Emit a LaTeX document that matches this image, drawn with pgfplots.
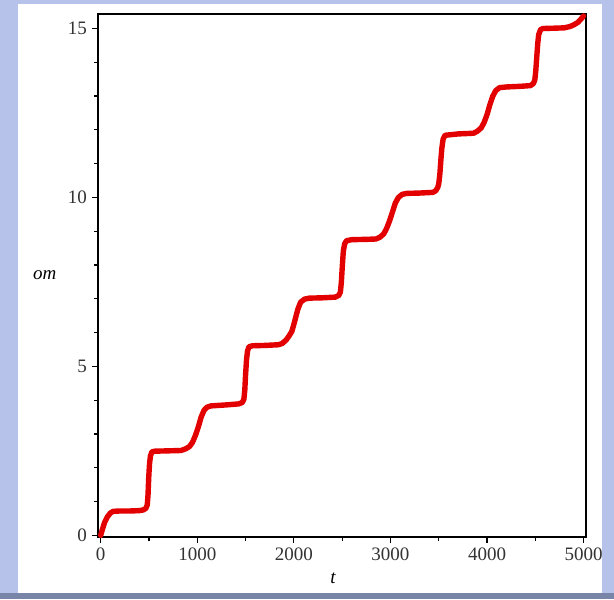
\documentclass[border=0pt]{standalone}
\usepackage{pgfplots}
\pgfplotsset{compat=1.18}
\usepackage{fontspec}
\setmainfont{Liberation Serif}
\definecolor{bgblue}{RGB}{182,194,234}
\definecolor{bgdark}{RGB}{120,132,168}
\definecolor{curve}{RGB}{226,0,0}
\begin{document}
\begin{tikzpicture}
\useasboundingbox (0pt,0pt) rectangle (307pt,299.5pt);
\fill[bgblue] (0pt,0pt) rectangle (307pt,299.5pt);
\fill[bgdark] (0pt,0pt) rectangle (307pt,3pt);
\fill[white] (9pt,3pt) rectangle (301pt,297.5pt);
\begin{axis}[
  at={(49pt,31pt)}, anchor=south west,
  scale only axis, width=244pt, height=261.5pt,
  xmin=-28, xmax=5025, ymin=-0.05, ymax=15.43,
  xtick={0,1000,2000,3000,4000,5000},
  ytick={0,5,10,15},
  minor xtick={500,1500,2500,3500,4500},
  minor ytick={1,2,3,4,6,7,8,9,11,12,13,14},
  xtick pos=left, ytick pos=left,
  tick align=outside,
  major tick length=3pt, minor tick length=2pt,
  every tick/.style={black, line width=0.6pt},
  axis line style={black, line width=0.7pt},
  /pgf/number format/assume math mode=true,
  /pgf/number format/1000 sep={},
  tick label style={font=\fontsize{9.5}{11}\selectfont, text=black!80},
  xticklabel style={yshift=1pt},
  yticklabel style={xshift=1pt},
  xlabel={\textit{t}}, ylabel={\textit{om}},
  every axis x label/.style={at={(axis description cs:0.482,-0.078)}, anchor=center, font=\fontsize{9.5}{11}\selectfont},
  every axis y label/.style={at={(axis description cs:-0.109,0.5)}, anchor=center, font=\fontsize{9.5}{11}\selectfont},
  clip=false,
]
\addplot[curve, line width=2.7pt, line join=round, line cap=round] coordinates {
(0,0.0)(15,0.15)(40,0.38)(70,0.55)(100,0.66)(130,0.71)(200,0.72)(300,0.72)(400,0.73)
(440,0.75)(468,0.80)(482,0.90)(490,1.2)(497,1.7)(505,2.1)(515,2.35)(530,2.47)(560,2.49)
(700,2.50)(830,2.51)(880,2.56)(920,2.63)(950,2.75)(980,2.95)(1010,3.2)(1040,3.5)(1070,3.7)
(1100,3.79)(1140,3.83)(1300,3.86)(1430,3.89)(1465,3.93)(1482,4.02)(1492,4.3)(1500,4.75)
(1510,5.2)(1520,5.45)(1535,5.58)(1570,5.61)(1700,5.62)(1840,5.64)
(1880,5.68)(1920,5.78)(1950,5.90)(1980,6.04)(2010,6.35)(2040,6.68)(2070,6.90)(2110,6.99)
(2160,7.02)(2300,7.03)(2430,7.05)(2465,7.10)(2482,7.2)(2492,7.5)(2502,7.98)(2512,8.4)
(2525,8.62)(2545,8.72)(2600,8.75)(2750,8.76)(2850,8.77)(2890,8.82)(2930,8.92)(2960,9.08)
(2990,9.30)(3020,9.56)(3050,9.83)(3080,9.99)(3120,10.09)(3170,10.12)(3300,10.13)(3440,10.15)
(3470,10.2)(3490,10.3)(3500,10.4)(3512,10.7)(3522,11.1)(3532,11.45)(3545,11.72)(3565,11.84)
(3700,11.88)(3860,11.9)(3900,11.96)(3940,12.06)(3970,12.22)(4000,12.45)(4030,12.75)
(4060,13.0)(4090,13.16)(4130,13.25)(4200,13.27)(4350,13.29)(4450,13.31)(4480,13.37)
(4495,13.48)(4505,13.75)(4515,14.15)(4525,14.55)(4535,14.82)(4555,14.97)(4580,15.0)
(4700,15.01)(4800,15.02)(4860,15.06)(4900,15.11)(4940,15.18)(4970,15.27)(5000,15.37)
};
\end{axis}
\end{tikzpicture}
\end{document}
